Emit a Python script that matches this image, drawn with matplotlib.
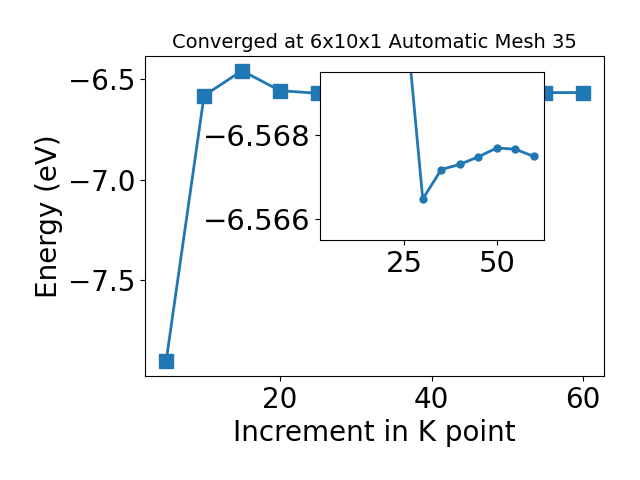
import matplotlib
matplotlib.use("Agg")
import matplotlib.pyplot as plt

# K point increments and converged energies (eV)
kpoints = [5, 10, 15, 20, 25, 30, 35, 40, 45, 50, 55, 60]
energy = [-7.901, -6.583, -6.459, -6.558, -6.5712, -6.56648, -6.56718,
          -6.56730, -6.56748, -6.56769, -6.56766, -6.56749]

# inset shows the tail of the series
inset_k = kpoints[4:]
inset_e = energy[4:]

fig = plt.figure(figsize=(6.4, 4.8), dpi=100)
ax = fig.add_subplot(1, 1, 1)
fig.subplots_adjust(left=0.227, right=0.944, top=0.883, bottom=0.217)

ax.plot(kpoints, energy, marker='s', markersize=10, linewidth=2, color='#1f77b4')
ax.set_xlabel("Increment in K point", fontsize=20)
ax.set_ylabel("Energy (eV)", fontsize=20)
ax.tick_params(labelsize=20)
ax.set_title("Converged at 6x10x1 Automatic Mesh 35", fontsize=14)
xlim = ax.get_xlim()

ins = fig.add_axes([0.5, 0.5, 0.35, 0.35])
ins.plot(inset_k, inset_e, marker='o', markersize=5, linewidth=2, color='#1f77b4')
ins.set_xlim(xlim)
ins.set_ylim(-6.56551, -6.56949)
ins.set_yticks([-6.568, -6.566])
ins.tick_params(labelsize=21)

fig.savefig("out.png")
